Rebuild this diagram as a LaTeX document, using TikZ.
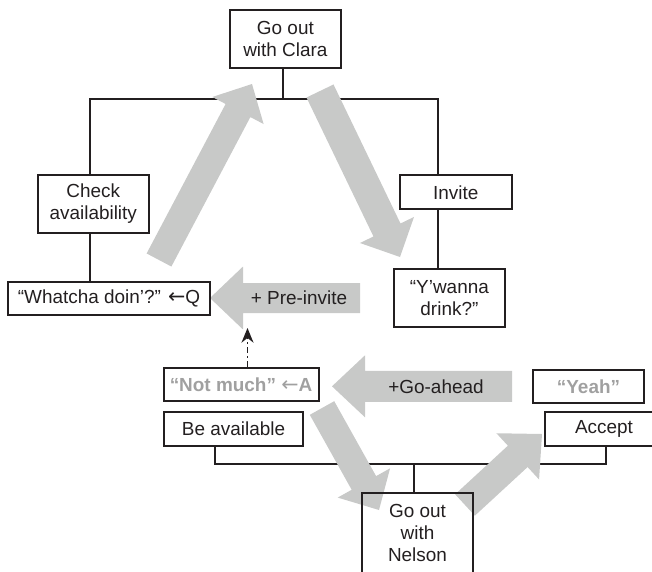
\documentclass[tikz,border=0pt]{standalone}
\usepackage{fontspec}
\setmainfont{Liberation Sans}
\newfontfamily\arrowfont{DejaVu Sans}
\usetikzlibrary{calc,arrows.meta,backgrounds}
\definecolor{ink}{RGB}{35,31,32}
\definecolor{arrowgrey}{RGB}{200,201,200}
\definecolor{textgrey}{RGB}{160,160,160}
\newcommand\larr{{\arrowfont\fontsize{15.5}{16.5}\selectfont ←}}
% #1 tail, #2 tip, #3 half shaft width, #4 half head width, #5 head length
\newcommand\blockarrow[5]{%
  \coordinate (#1-b) at ($(#2)!#5!(#1)$);
  \fill[arrowgrey] ($(#1)!#3!90:(#2)$) -- ($(#1-b)!#3!90:(#2)$) -- ($(#1-b)!#4!90:(#2)$) -- (#2)
    -- ($(#1-b)!#4!-90:(#2)$) -- ($(#1-b)!#3!-90:(#2)$) -- ($(#1)!#3!-90:(#2)$) -- cycle;}
\tikzset{
  box/.style={draw=ink, line width=1.5pt, inner sep=0pt, align=center, text=ink},
  conn/.style={draw=ink, line width=1.5pt},
  greytext/.style={text=textgrey, font=\fontsize{14.2}{16.5}\selectfont\bfseries},
  arrowlabel/.style={text=ink, inner sep=0pt}
}
\begin{document}
\begin{tikzpicture}[x=0.75pt, y=-0.75pt, font=\fontsize{14.2}{16.5}\selectfont]
\useasboundingbox (0,0) rectangle (652,571);
\clip (0,0) rectangle (652,571);
% boxes
\node[box, minimum width=83.1pt, minimum height=43.5pt] (clara) at (285.4,39) {Go out\\with Clara};
\node[box, minimum width=83.6pt, minimum height=43.5pt] (check) at (93.25,204) {Check\\availability};
\node[box, minimum width=83.8pt, minimum height=25.5pt] (invite) at (455.8,192.3) {Invite};
\node[box, minimum width=151.5pt, minimum height=25.1pt] (whatcha) at (109,298.3) {“Whatcha doin’?” \larr Q};
\node[box, minimum width=83.4pt, minimum height=43.05pt] (ywanna) at (449.4,298) {“Y’wanna\\drink?”};
\node[box, greytext, minimum width=116.25pt, minimum height=25.1pt] (notmuch) at (241,384.3) {“Not much” {\mdseries\larr}A};
\node[box, minimum width=104.25pt, minimum height=25.05pt] (beavail) at (233.5,429) {Be available};
\node[box, greytext, minimum width=83.6pt, minimum height=25pt] (yeah) at (588.5,386.7) {“Yeah”};
\node[box, minimum width=88.5pt, minimum height=25.5pt] (accept) at (604,429) {Accept};
\node[box, minimum width=83.25pt, minimum height=60pt] (nelson) at (417.5,533) {Go out\\with\\Nelson};
% tree junctions
\coordinate (lt) at (90,99);
\coordinate (ct) at (282.5,99);
\coordinate (rt) at (437.5,99);
\coordinate (lb) at (215,464);
\coordinate (cb) at (414,464);
\coordinate (rb) at (606,464);
% arrow end points
\coordinate (aT) at (159,260);   \coordinate (aP) at (252,84);
\coordinate (bT) at (320,91);    \coordinate (bP) at (400,257);
\coordinate (cT) at (360,298);   \coordinate (cP) at (210,298);
\coordinate (dT) at (512,386.3); \coordinate (dP) at (332,386.3);
\coordinate (eT) at (322,408);   \coordinate (eP) at (379,510);
\coordinate (fT) at (465,505);   \coordinate (fP) at (542,434);
\begin{scope}[on background layer]
  \draw[conn] (lt |- check.north) -- (lt) -- (rt) -- (rt |- invite.north);
  \draw[conn] (ct) -- (ct |- clara.south);
  \draw[conn] (lt |- check.south) -- (lt |- whatcha.north);
  \draw[conn] (rt |- invite.south) -- (rt |- ywanna.north);
  \draw[conn] (lb |- beavail.south) -- (lb) -- (rb) -- (rb |- accept.south);
  \draw[conn] (cb) -- (cb |- nelson.north);
  \blockarrow{aT}{aP}{10.5pt}{21.75pt}{22.5pt}
  \blockarrow{bT}{bP}{11.25pt}{22.5pt}{22.5pt}
  \blockarrow{cT}{cP}{11.25pt}{23.6pt}{24.75pt}
  \blockarrow{dT}{dP}{11.6pt}{23.25pt}{24.75pt}
  \blockarrow{eT}{eP}{10.5pt}{22.5pt}{23.25pt}
  \blockarrow{fT}{fP}{10.9pt}{23.6pt}{24.75pt}
\end{scope}
\node[arrowlabel] (preinv) at (299,298) {+ Pre-invite};
\node[arrowlabel] (goahead) at (436,386.3) {+Go-ahead};
% dash-dot arrow
\coordinate (dtip) at (247.5,328);
\draw[ink, line width=1.3pt, dash pattern=on 4.5pt off 2.2pt on 1.3pt off 2.2pt,
  -{Stealth[length=11pt,width=9pt]}] (notmuch.north -| dtip) -- (dtip);
\end{tikzpicture}
\end{document}
